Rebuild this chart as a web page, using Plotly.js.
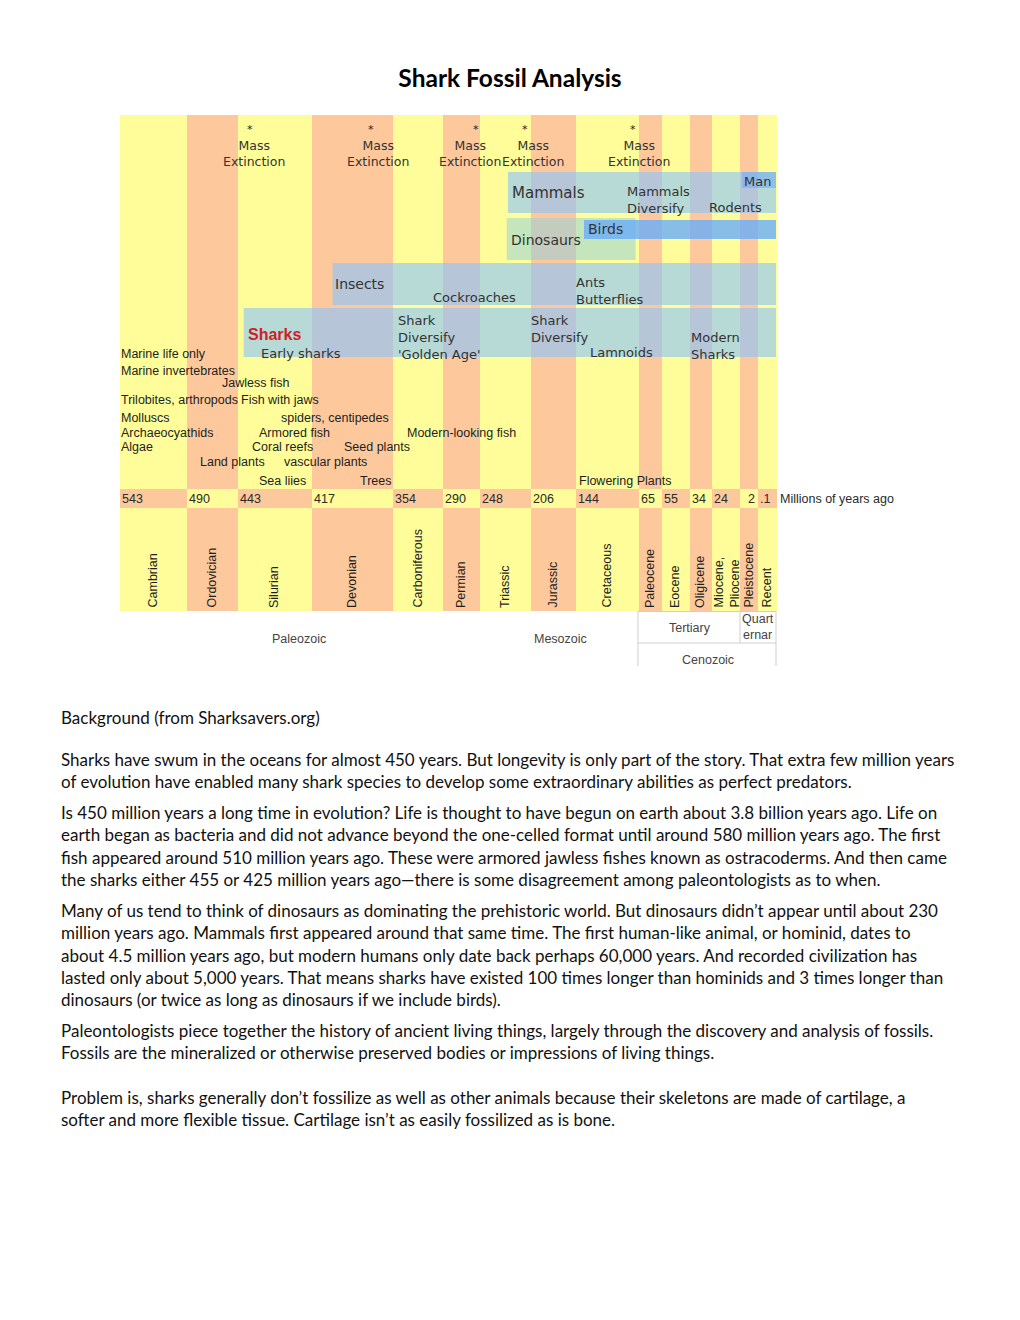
<!DOCTYPE html>
<html>
<head>
<meta charset="utf-8">
<script src="https://cdn.plot.ly/plotly-3.0.1.min.js"></script>
<style>
  html, body { margin: 0; padding: 0; background: #ffffff; }
  #chart { width: 1020px; height: 1320px; }
</style>
</head>
<body>
<div id="chart"></div>
<script>
// ---------------- DATA ----------------
const titleText = 'Shark Fossil Analysis';
const periods = ['Cambrian', 'Ordovician', 'Silurian', 'Devonian', 'Carboniferous', 'Permian', 'Triassic',
  'Jurassic', 'Cretaceous', 'Paleocene', 'Eocene', 'Oligicene', 'Miocene,<br>Pliocene', 'Pleistocene', 'Recent'];
const startAges = [543, 490, 443, 417, 354, 290, 248, 206, 144, 65, 55, 34, 24, 2, 0.1];
const startAgeLabels = ['543', '490', '443', '417', '354', '290', '248', '206', '144', '65', '55', '34', '24', '2', '.1'];
const ageUnit = 'Millions of years ago';
const eras = ['Paleozoic', 'Mesozoic', 'Cenozoic'];
const subEras = ['Tertiary', 'Quart<br>ernar'];
const extinctionAges = [440, 365, 250, 206, 65];
const extinctionLabel = 'Mass<br>Extinction';
// life bands: name, first appearance (Mya), end (Mya)
const bandNames = ['Mammals', 'Dinosaurs', 'Birds', 'Insects', 'Sharks', 'Man'];
const bandStart = [225, 226, 134, 401, 441, 1.8];
const bandEnd = [0, 68, 0, 0, 0, 0];
// labels inside bands
const mammalLabels = ['Mammals', 'Mammals<br>Diversify', 'Rodents', 'Man'];
const dinoLabels = ['Dinosaurs', 'Birds'];
const insectLabels = ['Insects', 'Cockroaches', 'Ants<br>Butterflies'];
const sharkLabels = ['Sharks', 'Early sharks', 'Shark<br>Diversify<br>\'Golden Age\'', 'Shark<br>Diversify', 'Lamnoids', 'Modern<br>Sharks'];
// other life events
const lifeEvents = ['Marine life only', 'Marine invertebrates', 'Jawless fish', 'Trilobites, arthropods', 'Fish with jaws',
  'Molluscs', 'spiders, centipedes', 'Archaeocyathids', 'Armored fish', 'Modern-looking fish', 'Algae', 'Coral reefs',
  'Seed plants', 'Land plants', 'vascular plants', 'Sea liies', 'Trees', 'Flowering Plants'];
const paragraphLines = [
  'Background (from Sharksavers.org)',
  'Sharks have swum in the oceans for almost 450 years. But longevity is only part of the story. That extra few million years',
  'of evolution have enabled many shark species to develop some extraordinary abilities as perfect predators.',
  'Is 450 million years a long time in evolution? Life is thought to have begun on earth about 3.8 billion years ago. Life on',
  'earth began as bacteria and did not advance beyond the one-celled format until around 580 million years ago. The first',
  'fish appeared around 510 million years ago. These were armored jawless fishes known as ostracoderms. And then came',
  'the sharks either 455 or 425 million years ago\u2014there is some disagreement among paleontologists as to when.',
  'Many of us tend to think of dinosaurs as dominating the prehistoric world. But dinosaurs didn\u2019t appear until about 230',
  'million years ago. Mammals first appeared around that same time. The first human-like animal, or hominid, dates to',
  'about 4.5 million years ago, but modern humans only date back perhaps 60,000 years. And recorded civilization has',
  'lasted only about 5,000 years. That means sharks have existed 100 times longer than hominids and 3 times longer than',
  'dinosaurs (or twice as long as dinosaurs if we include birds).',
  'Paleontologists piece together the history of ancient living things, largely through the discovery and analysis of fossils.',
  'Fossils are the mineralized or otherwise preserved bodies or impressions of living things.',
  'Problem is, sharks generally don\u2019t fossilize as well as other animals because their skeletons are made of cartilage, a',
  'softer and more flexible tissue. Cartilage isn\u2019t as easily fossilized as is bone.'
];

// ---------------- LAYOUT / STYLE ----------------
const colEdges = [120, 187, 238, 312, 393, 443, 480, 531, 576, 639, 662, 690, 712, 740, 758, 777];
const edgeAges = startAges.concat([0]);
const YEL = '#fffd99', ORG = '#fdc99c';
const chartTop = 115, numTop = 489, numBot = 508, chartBot = 611;
const VER = 'DejaVu Sans, Verdana, sans-serif';
const ARI = 'Liberation Sans, Arial, sans-serif';
const BODY = 'Lato, Calibri, sans-serif';

function ageToX(a) {
  for (let i = 0; i < edgeAges.length - 1; i++) {
    const a0 = edgeAges[i], a1 = edgeAges[i + 1];
    if (a <= a0 && a >= a1) {
      return colEdges[i] + (a0 - a) / (a0 - a1) * (colEdges[i + 1] - colEdges[i]);
    }
  }
  return a > edgeAges[0] ? colEdges[0] : colEdges[colEdges.length - 1];
}

const centers = [], widths = [], colColors = [], numColors = [];
for (let i = 0; i < periods.length; i++) {
  centers.push((colEdges[i] + colEdges[i + 1]) / 2);
  widths.push(colEdges[i + 1] - colEdges[i]);
  colColors.push(i % 2 === 0 ? YEL : ORG);
  numColors.push(i % 2 === 0 ? ORG : YEL);
}

const traces = [
  { type: 'bar', x: centers, y: periods.map(() => chartBot - chartTop), base: chartTop, width: widths,
    marker: { color: colColors, line: { width: 0 } }, hoverinfo: 'skip', showlegend: false },
  { type: 'bar', x: centers, y: periods.map(() => numBot - numTop), base: numTop, width: widths,
    marker: { color: numColors, line: { width: 0 } }, hoverinfo: 'skip', showlegend: false }
];

// bands rows: [top, bottom]
const bandRows = { Mammals: [172, 213], Dinosaurs: [218, 260], Birds: [220, 239], Insects: [263, 305], Sharks: [308, 357], Man: [172, 188] };
const bandFill = {
  Mammals: 'rgba(135,195,255,0.6)', Dinosaurs: 'rgba(140,208,225,0.5)', Birds: 'rgba(105,172,250,0.8)',
  Insects: 'rgba(135,195,255,0.6)', Sharks: 'rgba(135,195,255,0.6)', Man: 'rgba(110,170,245,0.55)'
};
const shapes = [];
bandNames.forEach((b, i) => {
  shapes.push({ type: 'rect', xref: 'x', yref: 'y', x0: ageToX(bandStart[i]), x1: ageToX(bandEnd[i]) - 1,
    y0: bandRows[b][0], y1: bandRows[b][1], fillcolor: bandFill[b], line: { width: 0 }, layer: 'above' });
});
// era table lines
const GL = { color: '#cfcfcf', width: 1 };
const ceno0 = colEdges[9] - 1, ceno1 = colEdges[15] - 1, quart = colEdges[13];
shapes.push({ type: 'line', x0: ceno0, x1: ceno0, y0: chartBot, y1: 666, line: GL, layer: 'above' });
shapes.push({ type: 'line', x0: ceno1, x1: ceno1, y0: chartBot, y1: 666, line: GL, layer: 'above' });
shapes.push({ type: 'line', x0: ceno0, x1: ceno1, y0: chartBot + 0.5, y1: chartBot + 0.5, line: GL, layer: 'above' });
shapes.push({ type: 'line', x0: ceno0, x1: ceno1, y0: 643, y1: 643, line: GL, layer: 'above' });
shapes.push({ type: 'line', x0: quart, x1: quart, y0: chartBot, y1: 643, line: GL, layer: 'above' });

const ann = [];
function A(text, x, y, o) {
  ann.push(Object.assign({ text: text, x: x, y: y, xref: 'x', yref: 'y', showarrow: false,
    xanchor: 'left', yanchor: 'middle', borderpad: 0,
    font: { family: VER, size: 13, color: '#333333' } }, o || {}));
}

// Mass extinctions
const extLabelX = [254, 378, 470, 533, 639];
const starDX = [-4, -7, 6, -8, -6];
extinctionAges.forEach((a, i) => {
  A('*', extLabelX[i] + starDX[i], 137, { xanchor: 'center', yanchor: 'bottom', font: { family: VER, size: 11, color: '#222' } });
  A(extinctionLabel, extLabelX[i], 153, { xanchor: 'center', align: 'center', font: { family: VER, size: 12.5, color: '#333' } });
});

// Mammal band
A(mammalLabels[0], 511, 193, { font: { family: VER, size: 15, color: '#333' } });
A(mammalLabels[1], 626, 200, { align: 'left' });
A(mammalLabels[2], 708, 207);
A(mammalLabels[3], 743, 181);
// Dinosaurs / Birds
A(dinoLabels[0], 510, 240, { font: { family: VER, size: 14, color: '#333' } });
A(dinoLabels[1], 587, 229, { font: { family: VER, size: 14, color: '#333' } });
// Insects
A(insectLabels[0], 334, 284, { font: { family: VER, size: 14, color: '#333' } });
A(insectLabels[1], 432, 297);
A(insectLabels[2], 575, 291, { align: 'left' });
// Sharks
A(sharkLabels[0], 247, 334, { font: { family: ARI, size: 16, color: '#cc1f2a', weight: 'bold' } });
A(sharkLabels[1], 260, 353);
A(sharkLabels[2], 397, 337, { align: 'left' });
A(sharkLabels[3], 530, 329, { align: 'left' });
A(sharkLabels[4], 589, 352);
A(sharkLabels[5], 690, 346, { align: 'left' });

// Other life events (Arial)
const evX = [120, 120, 221, 120, 240, 120, 280, 120, 258, 406, 120, 251, 343, 199, 283, 258, 359, 578];
const evY = [354, 371, 383, 400, 400, 418, 418, 433, 433, 433, 447, 447, 447, 462, 462, 481, 481, 481];
lifeEvents.forEach((t, i) => {
  A(t, evX[i], evY[i], { font: { family: ARI, size: 12.5, color: '#1e1e1e' } });
});

// Ages row
startAgeLabels.forEach((t, i) => {
  if (t === '2') {
    A(t, colEdges[i + 1] - 2, 499, { xanchor: 'right', font: { family: ARI, size: 12.5, color: '#2a2a2a' } });
  } else {
    A(t, colEdges[i] + 1, 499, { font: { family: ARI, size: 12.5, color: '#2a2a2a' } });
  }
});
A(ageUnit, 779, 499, { font: { family: ARI, size: 12.5, color: '#2a2a2a' } });

// Period labels (vertical)
periods.forEach((p, i) => {
  A(p, centers[i] + (i === 12 ? 0 : -1), 609, { xanchor: 'center', yanchor: 'bottom', textangle: -90, align: 'left',
    font: { family: ARI, size: 12.5, color: '#1e1e1e' } });
});

// Eras
A(eras[0], 299, 639, { xanchor: 'center', font: { family: ARI, size: 12.5, color: '#444' } });
A(eras[1], 560, 639, { xanchor: 'center', font: { family: ARI, size: 12.5, color: '#444' } });
A(eras[2], 708, 660, { xanchor: 'center', font: { family: ARI, size: 12.5, color: '#444' } });
A(subEras[0], 690, 628, { xanchor: 'center', font: { family: ARI, size: 12.5, color: '#444' } });
A(subEras[1], 758, 627, { xanchor: 'center', align: 'center', font: { family: ARI, size: 12.5, color: '#444' } });

// Paragraph text
const paraY = [717, 759, 781, 812, 834, 857, 879, 910, 932, 955, 977, 999, 1030, 1052, 1097, 1119];
paragraphLines.forEach((t, i) => {
  A(t, 60, paraY[i], { font: { family: BODY, size: 17, color: '#111111' } });
});

const layout = {
  width: 1020, height: 1320,
  margin: { l: 0, r: 0, t: 0, b: 0 },
  paper_bgcolor: '#ffffff', plot_bgcolor: '#ffffff',
  title: { text: '<b>' + titleText + '</b>', x: 0.5, xanchor: 'center', y: 1 - 78 / 1320, yanchor: 'middle', yref: 'container',
    font: { family: BODY, size: 24.5, color: '#000000' } },
  xaxis: { range: [0, 1020], visible: false, fixedrange: true },
  yaxis: { range: [1320, 0], visible: false, fixedrange: true },
  bargap: 0, barmode: 'overlay',
  shapes: shapes, annotations: ann, showlegend: false
};
Plotly.newPlot('chart', traces, layout, { displayModeBar: false, staticPlot: true });
</script>
</body>
</html>
